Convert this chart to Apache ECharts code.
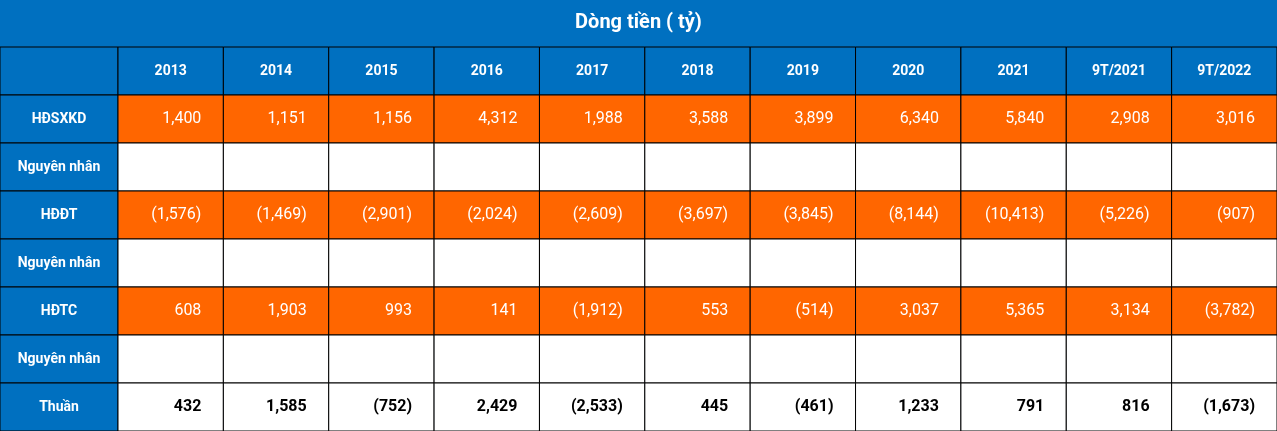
<!DOCTYPE html>
<html><head><meta charset="utf-8">
<script src="https://cdn.jsdelivr.net/npm/echarts@6/dist/echarts.min.js"></script>
<style>html,body{margin:0;padding:0}#c{width:1277px;height:431px}</style>
</head><body><div id="c"></div>
<script>
const titleText = 'Dòng tiền ( tỷ)';
const years = ['2013','2014','2015','2016','2017','2018','2019','2020','2021','9T/2021','9T/2022'];
const rowLabels = ['HĐSXKD','Nguyên nhân','HĐĐT','Nguyên nhân','HĐTC','Nguyên nhân','Thuần'];
const rowKinds = ['orange','white','orange','white','orange','white','total'];
const hdsxkd = [1400,1151,1156,4312,1988,3588,3899,6340,5840,2908,3016];
const hddt = [-1576,-1469,-2901,-2024,-2609,-3697,-3845,-8144,-10413,-5226,-907];
const hdtc = [608,1903,993,141,-1912,553,-514,3037,5365,3134,-3782];
const thuan = [432,1585,-752,2429,-2533,445,-461,1233,791,816,-1673];
const rowValues = [hdsxkd,null,hddt,null,hdtc,null,thuan];

const fmt = v => { const s = Math.abs(v).toLocaleString('en-US'); return v < 0 ? '(' + s + ')' : s; };
const BLUE = '#0070C0', ORANGE = '#FF6600';
const rowCats = ['h','0','1','2','3','4','5','6'];

const labelData = [[0,0,'','header']];
rowLabels.forEach((l,i)=>labelData.push([0,i+1,l,'header']));
const cellData = [];
years.forEach((y,c)=>cellData.push([c,0,y,'header']));
rowValues.forEach((arr,r)=>years.forEach((y,c)=>cellData.push([c,r+1,arr?fmt(arr[c]):'',rowKinds[r]])));

function makeRender(data){
  return function(params, api){
    const d = data[params.dataIndex];
    const p = api.coord([api.value(0), api.value(1)]);
    const s = api.size([1,1]);
    const kind = d[3], txt = d[2];
    const x = p[0]-s[0]/2, y = p[1]-s[1]/2;
    const fill = kind==='header'?BLUE:kind==='orange'?ORANGE:'#fff';
    const isHeader = kind==='header';
    return {type:'group',children:[
      {type:'rect',shape:{x:x,y:y,width:s[0],height:s[1]},style:{fill:fill,stroke:'#000',lineWidth:1}},
      {type:'text',x:isHeader?p[0]:x+s[0]-22,y:p[1],style:{text:txt,align:isHeader?'center':'right',verticalAlign:'middle',
        fill:kind==='total'?'#000':'#fff',font:(isHeader||kind==='total'?'bold ':'')+(isHeader?'14px':'16px')+' Roboto'}}
    ]};
  };
}

const chart = echarts.init(document.getElementById('c'));
chart.setOption({
  backgroundColor: BLUE,
  animation:false,
  title:{text:titleText,left:'center',top:8,textStyle:{color:'#fff',fontFamily:'Roboto',fontWeight:'bold',fontSize:20}},
  grid:[{left:0,top:47,width:118,bottom:0},{left:118,right:0,top:47,bottom:0}],
  xAxis:[{type:'category',gridIndex:0,data:['l'],show:false},{type:'category',gridIndex:1,data:years,show:false}],
  yAxis:[{type:'category',gridIndex:0,data:rowCats,inverse:true,show:false},{type:'category',gridIndex:1,data:rowCats,inverse:true,show:false}],
  series:[
    {type:'custom',xAxisIndex:0,yAxisIndex:0,data:labelData.map(d=>[d[0],d[1]]),renderItem:makeRender(labelData)},
    {type:'custom',xAxisIndex:1,yAxisIndex:1,data:cellData.map(d=>[d[0],d[1]]),renderItem:makeRender(cellData)}
  ]
});
</script></body></html>
